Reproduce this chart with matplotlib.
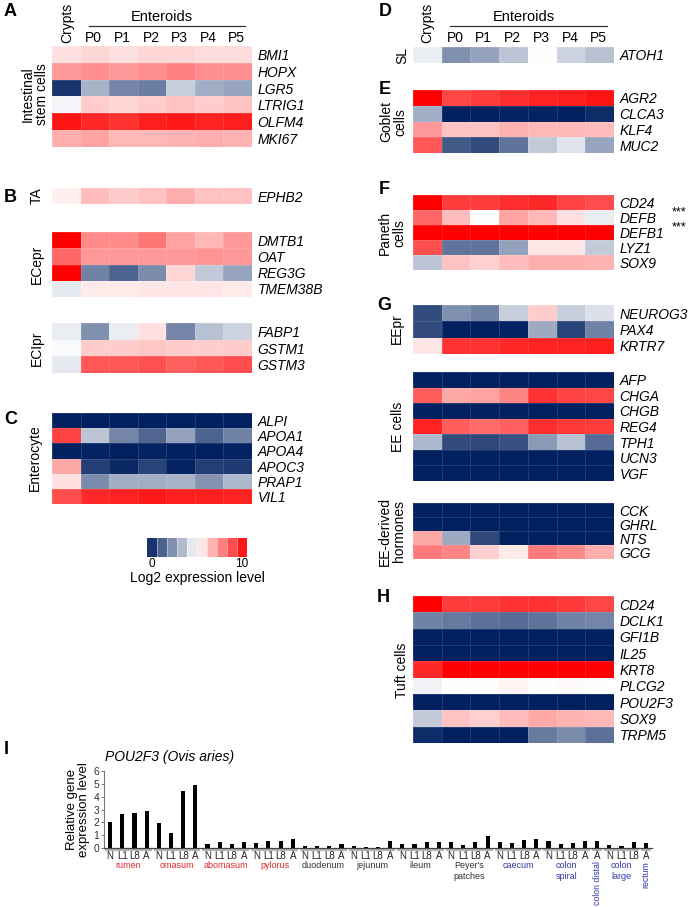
import numpy as np
import matplotlib
matplotlib.use("Agg")
import matplotlib.pyplot as plt
from matplotlib.colors import LinearSegmentedColormap
import matplotlib.transforms as mtransforms

plt.rcParams['font.family'] = ['Liberation Sans', 'DejaVu Sans']

W, H = 696, 907
fig = plt.figure(figsize=(W / 100, H / 100), dpi=100)

def fx(x):
    return x / W

def fy(y):
    return 1 - y / H

# ---------------- DATA ----------------
columns = ["Crypts", "P0", "P1", "P2", "P3", "P4", "P5"]

genes_stem = ["BMI1", "HOPX", "LGR5", "LTRIG1", "OLFM4", "MKI67"]
vals_stem = [
    [5.6, 5.8, 5.6, 5.8, 5.8, 5.7, 5.7],
    [7.0, 7.2, 7.0, 7.2, 7.5, 7.2, 7.2],
    [0.5, 3.3, 2.3, 2.1, 3.9, 3.2, 3.0],
    [4.8, 6.0, 5.8, 6.0, 6.2, 6.0, 6.2],
    [9.6, 9.2, 9.0, 9.4, 9.5, 9.3, 9.4],
    [6.6, 6.8, 6.4, 6.4, 6.5, 6.6, 6.5],
]
genes_ta = ["EPHB2"]
vals_ta = [[5.3, 6.3, 6.0, 6.2, 6.6, 6.2, 6.2]]

genes_ecepr = ["DMTB1", "OAT", "REG3G", "TMEM38B"]
vals_ecepr = [
    [10.0, 7.3, 7.3, 7.7, 6.8, 6.4, 7.0],
    [8.0, 7.0, 7.0, 7.0, 7.0, 7.1, 7.0],
    [10.0, 2.2, 1.5, 2.4, 5.8, 3.8, 3.0],
    [4.5, 5.4, 5.4, 5.5, 5.5, 5.5, 5.4],
]
genes_eclpr = ["FABP1", "GSTM1", "GSTM3"]
vals_eclpr = [
    [4.6, 2.5, 4.6, 5.6, 2.3, 3.6, 4.0],
    [4.9, 6.0, 6.0, 6.1, 6.0, 6.0, 6.0],
    [4.5, 8.3, 8.3, 8.4, 8.1, 8.3, 8.5],
]
genes_entero = ["ALPI", "APOA1", "APOA4", "APOC3", "PRAP1", "VIL1"]
vals_entero = [
    [0.0, 0.0, 0.0, 0.0, 0.0, 0.0, 0.0],
    [8.7, 3.7, 2.3, 1.6, 2.9, 1.5, 2.2],
    [0.0, 0.1, 0.0, 0.1, 0.0, 0.0, 0.1],
    [6.7, 0.7, 0.2, 0.8, 0.1, 0.7, 0.6],
    [5.6, 2.4, 3.2, 3.2, 3.3, 2.6, 3.4],
    [8.5, 9.2, 9.3, 9.5, 9.4, 9.4, 9.3],
]
genes_sl = ["ATOH1"]
vals_sl = [[4.6, 2.5, 2.9, 3.7, 4.95, 4.0, 3.6]]

genes_goblet = ["AGR2", "CLCA3", "KLF4", "MUC2"]
vals_goblet = [
    [10.0, 8.6, 8.8, 9.1, 9.3, 9.4, 9.6],
    [3.2, 0.0, 0.0, 0.1, 0.1, 0.0, 0.3],
    [7.0, 6.2, 6.2, 6.5, 6.4, 6.4, 6.3],
    [8.3, 1.3, 1.0, 1.9, 3.8, 4.4, 3.0],
]
genes_paneth = ["CD24", "DEFB", "DEFB1", "LYZ1", "SOX9"]
vals_paneth = [
    [10.0, 8.8, 8.8, 9.1, 9.2, 8.7, 8.5],
    [8.0, 6.3, 5.0, 6.8, 6.4, 5.6, 4.6],
    [10.0, 10.0, 10.0, 10.0, 10.0, 10.0, 10.0],
    [8.4, 1.9, 1.9, 2.9, 5.5, 5.5, 3.8],
    [3.7, 6.2, 5.9, 6.3, 6.6, 6.6, 6.5],
]
genes_eepr = ["NEUROG3", "PAX4", "KRTR7"]
vals_eepr = [
    [1.0, 2.5, 2.2, 3.9, 6.0, 3.9, 4.3],
    [1.0, 0.0, 0.0, 0.1, 3.1, 0.8, 2.2],
    [5.5, 9.0, 9.0, 9.2, 9.3, 9.3, 9.4],
]
genes_ee = ["AFP", "CHGA", "CHGB", "REG4", "TPH1", "UCN3", "VGF"]
vals_ee = [
    [0.0, 0.0, 0.0, 0.0, 0.0, 0.0, 0.0],
    [8.2, 6.7, 6.8, 7.4, 9.0, 8.7, 8.6],
    [0.0, 0.0, 0.0, 0.0, 0.0, 0.0, 0.0],
    [9.3, 8.2, 7.9, 8.1, 9.1, 8.9, 8.8],
    [3.4, 1.0, 0.9, 1.1, 2.7, 3.6, 1.7],
    [0.0, 0.0, 0.0, 0.0, 0.0, 0.0, 0.0],
    [0.0, 0.0, 0.0, 0.0, 0.0, 0.0, 0.0],
]
genes_horm = ["CCK", "GHRL", "NTS", "GCG"]
vals_horm = [
    [0.0, 0.0, 0.0, 0.0, 0.0, 0.0, 0.0],
    [0.0, 0.0, 0.0, 0.0, 0.0, 0.0, 0.0],
    [6.7, 3.1, 0.9, 0.0, 0.0, 0.0, 0.0],
    [7.6, 7.4, 5.9, 5.4, 7.6, 7.3, 6.6],
]
genes_tuft = ["CD24", "DCLK1", "GFI1B", "IL25", "KRT8", "PLCG2", "POU2F3", "SOX9", "TRPM5"]
vals_tuft = [
    [10.0, 8.8, 8.8, 9.0, 9.0, 8.9, 8.6],
    [2.2, 2.0, 1.8, 1.7, 1.9, 2.2, 2.3],
    [0.0, 0.0, 0.0, 0.0, 0.0, 0.0, 0.0],
    [0.0, 0.0, 0.0, 0.0, 0.0, 0.0, 0.0],
    [9.2, 10.0, 10.0, 10.0, 10.0, 10.0, 10.0],
    [4.7, 5.0, 5.0, 5.2, 5.0, 5.1, 5.0],
    [0.0, 0.0, 0.0, 0.0, 0.0, 0.0, 0.0],
    [3.8, 6.2, 5.9, 6.3, 6.7, 6.5, 6.4],
    [0.3, 0.0, 0.0, 0.0, 2.0, 2.4, 1.8],
]

colorbar_levels = list(range(10))
colorbar_ticklabels = ["0", "10"]

# Bar chart data (POU2F3, Ovis aries)
bar_labels = (["N", "L1", "L8", "A"] * 10) + ["A"] + ["N", "L1", "L8"] + ["A"]
bar_values = [
    2.01, 2.63, 2.76, 2.91,   # rumen
    1.91, 1.13, 4.46, 4.92,   # omasum
    0.28, 0.44, 0.33, 0.46,   # abomasum
    0.36, 0.57, 0.52, 0.72,   # pylorus
    0.18, 0.15, 0.15, 0.33,   # duodenum
    0.18, 0.08, 0.05, 0.57,   # jejunum
    0.33, 0.31, 0.44, 0.49,   # ileum
    0.49, 0.26, 0.49, 0.93,   # Peyer's patches
    0.44, 0.39, 0.64, 0.72,   # caecum
    0.57, 0.33, 0.41, 0.57,   # colon spiral
    0.57,                     # colon distal
    0.26, 0.18, 0.44,         # colon large
    0.36,                     # rectum
]
group_names = ["rumen", "omasum", "abomasum", "pylorus", "duodenum", "jejunum",
               "ileum", "Peyer's\npatches", "caecum", "colon\nspiral",
               "colon distal", "colon\nlarge", "rectum"]
group_sizes = [4, 4, 4, 4, 4, 4, 4, 4, 4, 4, 1, 3, 1]
group_kind = ["r", "r", "r", "r", "k", "k", "k", "k", "b", "b", "b", "b", "b"]

# ---------------- STYLE ----------------
NAVY = "#00205f"
cmap = LinearSegmentedColormap.from_list("nwr", [NAVY, "#ffffff", "#ff0000"])
FS = 10
kind_color = {"r": "#e3262d", "k": "#333333", "b": "#3236a8"}


def heat(x0, x1, y0, y1, vals, genes):
    ax = fig.add_axes([fx(x0), fy(y1), fx(x1 - x0), (y1 - y0) / H])
    data = np.array(vals)
    n, m = data.shape
    ax.pcolormesh(np.arange(m + 1), np.arange(n + 1), data, cmap=cmap,
                  vmin=0, vmax=10, edgecolors=(1, 1, 1, 0.12), linewidth=0.4)
    ax.set_xlim(0, m)
    ax.set_ylim(n, 0)
    ax.set_xticks([])
    ax.yaxis.tick_right()
    ax.set_yticks(np.arange(n) + 0.5)
    ax.set_yticklabels(genes, fontstyle="italic", fontsize=FS)
    ax.tick_params(axis="y", length=0, pad=4)
    for s in ax.spines.values():
        s.set_visible(False)
    return ax


def side(x, y, txt):
    fig.text(fx(x), fy(y), txt, rotation=90, ha="center", va="center",
             fontsize=FS, linespacing=1.0, multialignment="center")


def letter(x, y, t):
    fig.text(fx(x), fy(y), t, ha="left", va="center", fontsize=13, fontweight="bold")


def header(x0, x1, crypt_x):
    cw = (x1 - x0) / 7
    fig.text(fx(crypt_x), fy(43), columns[0], rotation=90, ha="center", va="bottom", fontsize=FS)
    fig.text(fx((x0 + cw + x1) / 2 - 4), fy(17), "Enteroids", ha="center", va="center", fontsize=FS + 0.5)
    fig.add_artist(plt.Line2D([fx(x0 + cw + 8), fx(x1 - 7)], [fy(26), fy(26)], color="#333333", lw=0.9))
    for i in range(1, 7):
        fig.text(fx(x0 + cw * (i + 0.5) - 1), fy(38), columns[i], ha="center", va="center", fontsize=FS)


# ---------------- LEFT COLUMN ----------------
LX0, LX1 = 52, 252
header(LX0, LX1, 67)
heat(LX0, LX1, 46.5, 146.5, vals_stem, genes_stem)
heat(LX0, LX1, 188, 204, vals_ta, genes_ta)
heat(LX0, LX1, 232, 297, vals_ecepr, genes_ecepr)
heat(LX0, LX1, 323, 373, vals_eclpr, genes_eclpr)
heat(LX0, LX1, 413, 504, vals_entero, genes_entero)

letter(4, 11, "A")
letter(4, 197, "B")
letter(4, 420, "C")
side(35, 94, "Intestinal\nstem cells")
side(37, 196, "TA")
side(37, 264, "ECepr")
side(37, 348, "ECIpr")
side(35, 458, "Enterocyte")

# colorbar
cax = fig.add_axes([fx(147), fy(557), fx(100), 19 / H])
cax.imshow(np.array([colorbar_levels]) + 0.5, cmap=cmap, vmin=0, vmax=10, aspect="auto",
           extent=(0, 10, 0, 1))
for i in range(1, 10):
    cax.axvline(i, color="white", lw=0.6, alpha=0.5)
cax.set_xticks([0.5, 9.5])
cax.set_xticklabels(colorbar_ticklabels, fontsize=8.5)
cax.tick_params(axis="x", length=0, pad=0.5)
cax.set_yticks([])
for s in cax.spines.values():
    s.set_visible(False)
fig.text(fx(197), fy(578), "Log2 expression level", ha="center", va="center", fontsize=FS)

# ---------------- RIGHT COLUMN ----------------
RX0, RX1 = 413, 614
header(RX0, RX1, 427)
heat(RX0, RX1, 47, 63, vals_sl, genes_sl)
heat(RX0, RX1, 90, 153, vals_goblet, genes_goblet)
heat(RX0, RX1, 195, 270, vals_paneth, genes_paneth)
heat(RX0, RX1, 305, 354, vals_eepr, genes_eepr)
heat(RX0, RX1, 372, 481, vals_ee, genes_ee)
heat(RX0, RX1, 503, 559, vals_horm, genes_horm)
heat(RX0, RX1, 596, 743, vals_tuft, genes_tuft)

fig.text(fx(672), fy(212), "***", ha="left", va="center", fontsize=9)
fig.text(fx(672), fy(227), "***", ha="left", va="center", fontsize=9)

letter(379, 11, "D")
letter(379, 89, "E")
letter(379, 190, "F")
letter(377, 306, "G")
letter(377, 598, "H")
side(402, 55, "SL")
side(393, 122, "Goblet\ncells")
side(392, 233, "Paneth\ncells")
side(397, 329, "EEpr")
side(398, 427, "EE cells")
side(392, 531, "EE-derived\nhormones")
side(402, 670, "Tuft cells")

# ---------------- PANEL I: bar chart ----------------
bx = fig.add_axes([fx(104), fy(848), fx(652 - 104), (848 - 771) / H])
xpos = np.arange(len(bar_values))
bx.bar(xpos, bar_values, width=0.34, color="black")
bx.set_xlim(-0.5, len(bar_values) - 0.5)
bx.set_ylim(0, 6)
bx.set_yticks(range(7))
bx.tick_params(axis="y", labelsize=7.5, labelcolor="#333333", length=2, width=0.6, pad=1.5, color="#666666")
bx.set_xticks(xpos)
bx.set_xticklabels(bar_labels, fontsize=7, color="#222222")
bx.tick_params(axis="x", length=0, pad=2)
for s in ("top", "right"):
    bx.spines[s].set_visible(False)
bx.spines["left"].set_color("#777777")
bx.spines["bottom"].set_color("#444444")
bx.spines["left"].set_linewidth(0.8)
bx.spines["bottom"].set_linewidth(0.9)
bx.set_ylabel("Relative gene\nexpression level", fontsize=9.5, labelpad=2, linespacing=1.0)

trans_lines = mtransforms.blended_transform_factory(bx.transData, bx.transAxes)
trans_fig = mtransforms.blended_transform_factory(bx.transData, fig.transFigure)
start = 0
for name, size, kind in zip(group_names, group_sizes, group_kind):
    end = start + size - 1
    bx.plot([start - 0.42, end + 0.42], [-0.03, -0.03], transform=trans_lines,
            color="#b5b5b5", lw=1.6, clip_on=False, solid_capstyle="butt")
    c = kind_color[kind]
    center = (start + end) / 2
    if size == 1:
        bx.text(center, fy(861), name, transform=trans_fig, rotation=90, ha="center",
                va="top", fontsize=6.3, color=c)
    else:
        bx.text(center, fy(861), name, transform=trans_fig, ha="center", va="top",
                fontsize=6.5, color=c, linespacing=1.25)
    start = end + 1

letter(4, 749, "I")
fig.text(fx(105), fy(757), "POU2F3 (Ovis aries)", ha="left", va="center",
         fontsize=10, fontstyle="italic")

fig.savefig("out.png", dpi=100)
